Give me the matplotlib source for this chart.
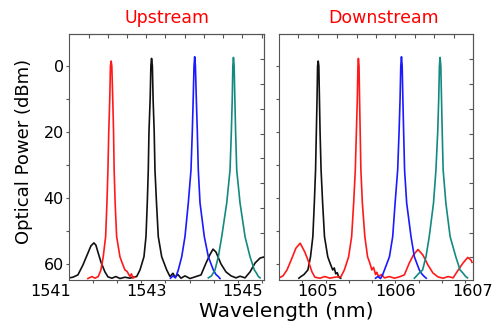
import numpy as np
import matplotlib
matplotlib.use("Agg")
import matplotlib.pyplot as plt

# Upstream spectra (wavelength nm, power drop dB)
up_black_x = [1541.400, 1541.473, 1541.577, 1541.681, 1541.785, 1541.848, 1541.910, 1541.952, 1541.994,
              1542.056, 1542.140, 1542.202, 1542.285, 1542.369, 1542.452, 1542.556, 1542.660, 1542.723,
              1542.800, 1542.869, 1542.952, 1542.994, 1543.021, 1543.042, 1543.056, 1543.081, 1543.096,
              1543.110, 1543.127, 1543.142, 1543.165, 1543.181, 1543.213, 1543.250, 1543.321, 1543.425,
              1543.494, 1543.556, 1543.598, 1543.660, 1543.723, 1543.806, 1543.910, 1544.015, 1544.140,
              1544.244, 1544.321, 1544.390, 1544.452, 1544.556, 1544.660, 1544.765, 1544.869, 1544.952,
              1545.056, 1545.160, 1545.265, 1545.369, 1545.442]
up_black_y = [64.2, 64.0, 63.3, 60.3, 56.7, 54.5, 53.6, 54.3, 56.4, 59.4, 62.4, 63.9, 64.3, 63.8, 64.4,
              64.0, 64.3, 64.0, 63.8, 61.8, 57.8, 51.7, 41.5, 31.5, 20.0, 10.0, 0.0, -2.3, 0.0, 10.0,
              20.0, 31.5, 41.5, 51.7, 57.8, 61.8, 63.8, 62.8, 64.0, 63.2, 64.3, 63.6, 64.4, 63.9, 63.3,
              59.7, 57.3, 55.5, 56.4, 60.0, 62.4, 63.6, 64.2, 63.7, 64.2, 62.4, 59.7, 58.2, 57.9]
up_red_x = [1541.785, 1541.869, 1541.931, 1542.000, 1542.056, 1542.104, 1542.154, 1542.181, 1542.202,
            1542.219, 1542.240, 1542.254, 1542.269, 1542.283, 1542.302, 1542.319, 1542.331, 1542.352,
            1542.383, 1542.452, 1542.494, 1542.556, 1542.598, 1542.660, 1542.692, 1542.723, 1542.754]
up_red_y = [64.4, 63.8, 64.3, 63.8, 61.8, 57.8, 51.7, 41.5, 31.5, 20.0, 10.0, 0.0, -1.5, 0.0, 10.0,
            20.0, 31.5, 41.5, 51.7, 57.8, 59.5, 61.8, 62.2, 63.8, 63.0, 64.3, 64.0]
up_blue_x = [1543.504, 1543.556, 1543.608, 1543.667, 1543.738, 1543.806, 1543.875, 1543.931, 1543.958,
             1543.977, 1543.994, 1544.008, 1544.023, 1544.042, 1544.063, 1544.083, 1544.119, 1544.208,
             1544.292, 1544.396, 1544.452, 1544.500, 1544.535]
up_blue_y = [64.3, 63.6, 64.2, 61.8, 57.8, 51.7, 41.5, 31.5, 20.0, 10.0, 0.0, -2.8, 0.0, 10.0, 20.0,
             31.5, 41.5, 51.7, 57.8, 61.8, 63.2, 63.8, 64.4]
up_teal_x = [1544.292, 1544.358, 1544.431, 1544.500, 1544.571, 1544.675, 1544.744, 1544.771, 1544.790,
             1544.802, 1544.815, 1544.829, 1544.844, 1544.860, 1544.883, 1544.952, 1545.056, 1545.160,
             1545.250, 1545.296, 1545.333, 1545.369]
up_teal_y = [64.2, 63.6, 61.8, 57.8, 51.7, 41.5, 31.5, 20.0, 10.0, 0.0, -2.6, 0.0, 10.0, 20.0, 31.5,
             41.5, 51.7, 57.8, 61.8, 62.8, 63.8, 64.2]

# Downstream spectra
dn_red_x = [1604.500, 1604.551, 1604.603, 1604.667, 1604.718, 1604.773, 1604.833, 1604.881, 1604.923,
            1604.962, 1605.026, 1605.090, 1605.154, 1605.218, 1605.299, 1605.342, 1605.397, 1605.436,
            1605.462, 1605.483, 1605.497, 1605.509, 1605.517, 1605.523, 1605.531, 1605.538, 1605.546,
            1605.555, 1605.574, 1605.606, 1605.641, 1605.667, 1605.696, 1605.718, 1605.744, 1605.760,
            1605.782, 1605.821, 1605.859, 1605.923, 1605.987, 1606.051, 1606.115, 1606.179, 1606.231,
            1606.291, 1606.355, 1606.419, 1606.483, 1606.547, 1606.615, 1606.679, 1606.744, 1606.804,
            1606.868, 1606.932, 1606.974, 1606.987]
dn_red_y = [64.2, 63.6, 61.8, 58.2, 55.2, 53.7, 56.4, 59.3, 62.3, 64.0, 64.3, 63.8, 64.3, 64.0, 63.8,
            61.8, 57.8, 51.7, 41.5, 31.5, 20.0, 10.0, 0.0, -2.3, 0.0, 10.0, 20.0, 31.5, 41.5, 51.7,
            57.8, 59.5, 61.8, 61.0, 63.2, 62.5, 63.8, 63.2, 64.2, 63.8, 64.3, 63.9, 63.3, 59.7, 57.3,
            55.6, 57.3, 60.3, 62.7, 63.9, 64.3, 63.8, 64.2, 62.0, 59.8, 58.0, 58.8, 59.5]
dn_black_x = [1604.756, 1604.782, 1604.821, 1604.872, 1604.906, 1604.936, 1604.955, 1604.971, 1604.981,
              1604.990, 1604.997, 1605.005, 1605.013, 1605.021, 1605.029, 1605.042, 1605.062, 1605.086,
              1605.128, 1605.154, 1605.192, 1605.212, 1605.231, 1605.250, 1605.269, 1605.295]
dn_black_y = [64.3, 63.8, 63.2, 61.8, 57.8, 51.7, 41.5, 31.5, 20.0, 10.0, 0.0, -1.5, 0.0, 10.0, 20.0,
              31.5, 41.5, 51.7, 57.8, 59.5, 61.8, 61.2, 63.0, 62.6, 64.0, 64.3]
dn_blue_x = [1605.744, 1605.773, 1605.808, 1605.833, 1605.859, 1605.923, 1605.965, 1605.996, 1606.029,
             1606.047, 1606.060, 1606.069, 1606.078, 1606.087, 1606.096, 1606.106, 1606.118, 1606.145,
             1606.201, 1606.244, 1606.308, 1606.340, 1606.372, 1606.397]
dn_blue_y = [64.3, 63.8, 64.4, 63.4, 61.8, 57.8, 51.7, 41.5, 31.5, 20.0, 10.0, 0.0, -2.8, 0.0, 10.0,
             20.0, 31.5, 41.5, 51.7, 57.8, 61.8, 63.0, 63.8, 64.3]
dn_teal_x = [1606.244, 1606.265, 1606.295, 1606.350, 1606.394, 1606.436, 1606.491, 1606.522, 1606.545,
             1606.558, 1606.567, 1606.576, 1606.585, 1606.594, 1606.603, 1606.615, 1606.650, 1606.705,
             1606.778, 1606.833, 1606.872, 1606.906, 1606.929]
dn_teal_y = [64.3, 63.8, 63.0, 61.8, 57.8, 51.7, 41.5, 31.5, 20.0, 10.0, 0.0, -2.6, 0.0, 10.0, 20.0,
             31.5, 41.5, 51.7, 57.8, 61.8, 62.8, 63.8, 64.2]

y_ticks = [0, 20, 40, 60]
up_xlabels = [1541, 1543, 1545]
dn_xlabels = [1605, 1606, 1607]

RED = '#ff1a1a'
BLACK = '#111111'
BLUE = '#1a1aff'
TEAL = '#138a80'
AXC = '#555555'
lw = 1.2


def setup_panel(ax, xlim, bottom_step, top_step, xlabels, show_ylabels):
    ax.set_xlim(*xlim)
    ax.set_ylim(64.85, -9.7)
    for s in ax.spines.values():
        s.set_color(AXC)
        s.set_linewidth(0.8)
    ax.set_yticks(y_ticks)
    ax.set_yticks([10, 30, 50], minor=True)
    ax.set_xticks(np.arange(xlim[0] + bottom_step, xlim[1], bottom_step))
    ax.tick_params(axis='both', which='both', direction='out', length=2.5, width=0.8,
                   color=AXC, labelsize=11.5, pad=1.5, top=False, right=False)
    ax.tick_params(axis='x', labelbottom=False)
    if not show_ylabels:
        ax.tick_params(axis='y', labelleft=False)
    # top and right inward ticks
    top = ax.secondary_xaxis('top')
    top.set_xticks(np.arange(xlim[0] + top_step, xlim[1] - 0.01, top_step))
    top.tick_params(direction='in', length=3, width=0.8, color=AXC, labeltop=False)
    top.spines['top'].set_color(AXC)
    right = ax.secondary_yaxis('right')
    right.set_yticks(np.arange(-2, 64, 7.5))
    right.tick_params(direction='in', length=3, width=0.8, color=AXC, labelright=False)
    right.spines['right'].set_color(AXC)
    for v in xlabels:
        ax.text(v, -0.018, str(v), transform=ax.get_xaxis_transform(), ha='center', va='top',
                fontsize=11.5, clip_on=False)


fig = plt.figure(figsize=(5.03, 3.32), dpi=100)
ax1 = fig.add_axes([0.138, 0.1566, 0.386, 0.741])
ax2 = fig.add_axes([0.5547, 0.1566, 0.3857, 0.741])

ax1.plot(up_black_x, up_black_y, color=BLACK, lw=lw)
ax1.plot(up_red_x, up_red_y, color=RED, lw=lw)
ax1.plot(up_blue_x, up_blue_y, color=BLUE, lw=lw)
ax1.plot(up_teal_x, up_teal_y, color=TEAL, lw=lw)

ax2.plot(dn_black_x, dn_black_y, color=BLACK, lw=lw)
ax2.plot(dn_red_x, dn_red_y, color=RED, lw=lw)
ax2.plot(dn_blue_x, dn_blue_y, color=BLUE, lw=lw)
ax2.plot(dn_teal_x, dn_teal_y, color=TEAL, lw=lw)

setup_panel(ax1, (1541.4, 1545.442), 0.5, 0.4, up_xlabels, True)
setup_panel(ax2, (1604.5, 1607.0), 0.3, 0.25, dn_xlabels, False)

fig.text(167 / 503, 0.931, 'Upstream', color='red', fontsize=12.5, ha='center', va='baseline')
fig.text(384 / 503, 0.931, 'Downstream', color='red', fontsize=12.5, ha='center', va='baseline')
fig.text(286 / 503, 0.045, 'Wavelength (nm)', fontsize=14.5, ha='center', va='baseline')
fig.text(24 / 503, 0.544, 'Optical Power (dBm)', fontsize=13, rotation=90, ha='center', va='center')

fig.savefig('out.png', dpi=100)
